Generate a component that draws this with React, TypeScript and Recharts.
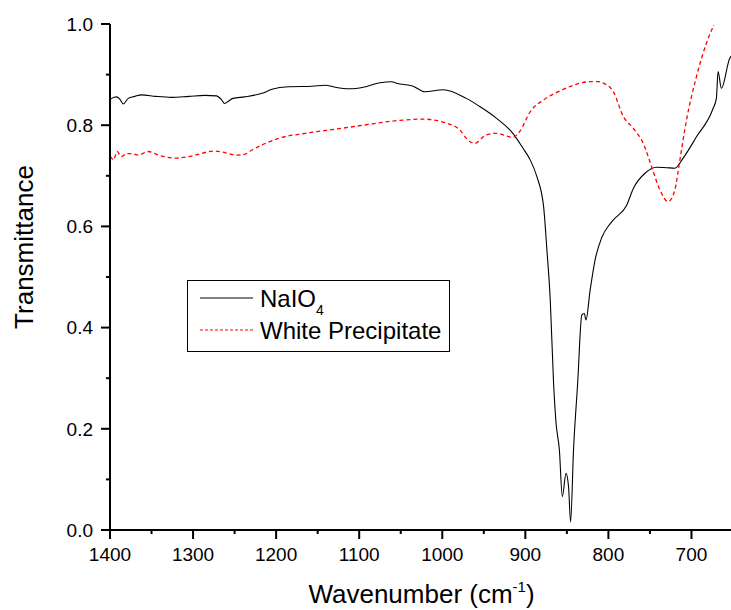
import React from 'react';
import { LineChart, Line, XAxis, YAxis, Legend, Label } from 'recharts';

// NaIO4 spectrum: [wavenumber, transmittance]
const naio4Wn = [1400, 1398, 1392, 1388, 1384, 1378, 1370, 1362, 1345, 1326, 1305, 1286, 1272, 1266, 1262, 1257, 1252, 1238, 1217, 1205, 1185, 1157, 1141, 1129, 1111, 1095, 1075, 1061, 1055, 1035, 1021, 999, 971, 955, 935, 915, 903, 894, 886, 878, 874, 870, 866, 863, 859, 855.5, 851, 848, 845.5, 842, 837, 832, 829, 827, 822, 816, 808, 798, 794, 778, 770, 756, 742, 730, 720, 710, 694, 674, 670, 668, 664, 654, 650];
const naio4T = [0.850, 0.853, 0.856, 0.851, 0.842, 0.853, 0.857, 0.860, 0.857, 0.855, 0.857, 0.859, 0.858, 0.851, 0.843, 0.848, 0.853, 0.856, 0.863, 0.871, 0.876, 0.877, 0.879, 0.875, 0.872, 0.875, 0.884, 0.886, 0.883, 0.877, 0.866, 0.870, 0.853, 0.837, 0.814, 0.784, 0.755, 0.731, 0.698, 0.639, 0.553, 0.455, 0.290, 0.211, 0.158, 0.066, 0.112, 0.086, 0.016, 0.158, 0.290, 0.425, 0.428, 0.415, 0.474, 0.534, 0.578, 0.605, 0.613, 0.642, 0.675, 0.705, 0.717, 0.716, 0.715, 0.735, 0.777, 0.833, 0.853, 0.906, 0.873, 0.932, 0.940];

// White precipitate spectrum
const whiteWn = [1400, 1398, 1396, 1393, 1391, 1388, 1386, 1380, 1374, 1366, 1354, 1342, 1320, 1302, 1274, 1246, 1237, 1229, 1217, 1197, 1165, 1129, 1095, 1055, 1023, 999, 979, 971, 961, 947, 935, 915, 907, 894, 878, 858, 842, 822, 812, 806, 794, 782, 770, 758, 748, 738, 728, 720, 714, 706, 694, 682, 673];
const whiteT = [0.738, 0.735, 0.731, 0.742, 0.748, 0.740, 0.738, 0.744, 0.744, 0.741, 0.748, 0.741, 0.735, 0.739, 0.749, 0.741, 0.743, 0.751, 0.761, 0.774, 0.784, 0.792, 0.800, 0.809, 0.812, 0.806, 0.791, 0.774, 0.764, 0.781, 0.784, 0.776, 0.787, 0.827, 0.850, 0.868, 0.879, 0.886, 0.886, 0.883, 0.866, 0.817, 0.794, 0.764, 0.718, 0.672, 0.649, 0.672, 0.731, 0.810, 0.896, 0.962, 0.998];

const xTicks = [1400, 1350, 1300, 1250, 1200, 1150, 1100, 1050, 1000, 950, 900, 850, 800, 750, 700];
const yTicks = [0, 0.1, 0.2, 0.3, 0.4, 0.5, 0.6, 0.7, 0.8, 0.9, 1.0];

const naio4Data = naio4Wn.map((x, i) => ({ x, y: naio4T[i] }));
const whiteData = whiteWn.map((x, i) => ({ x, y: whiteT[i] }));

const FONT = '"Liberation Sans", Arial, sans-serif';

const XTick = (props: any) => {
  const { x, y, payload } = props;
  const major = payload.value % 100 === 0;
  return (
    <g>
      <line x1={x} x2={x} y1={y} y2={y + (major ? 9 : 4)} stroke="#000" strokeWidth={2} />
      {major && (
        <text x={x} y={y + 31} textAnchor="middle" fontSize={19} fontFamily={FONT} fill="#000">
          {payload.value}
        </text>
      )}
    </g>
  );
};

const YTick = (props: any) => {
  const { x, y, payload } = props;
  const major = Math.round(payload.value * 10) % 2 === 0;
  return (
    <g>
      <line x1={x - (major ? 9 : 4)} x2={x} y1={y} y2={y} stroke="#000" strokeWidth={2} />
      {major && (
        <text x={x - 17} y={y} dy="0.36em" textAnchor="end" fontSize={19} fontFamily={FONT} fill="#000">
          {payload.value.toFixed(1)}
        </text>
      )}
    </g>
  );
};

const LegendBox = () => (
  <div style={{ width: 263, height: 72, border: '1.5px solid #000', boxSizing: 'border-box', background: '#fff' }}>
    <svg width={260} height={69}>
      <line x1={12} x2={65} y1={17} y2={17} stroke="#000" strokeWidth={1} />
      <text x={72} y={26} fontSize={24} fontFamily={FONT} fill="#000">
        NaIO<tspan fontSize={14} dy={8}>4</tspan>
      </text>
      <line x1={12} x2={65} y1={49} y2={49} stroke="#ff0000" strokeWidth={1} strokeDasharray="3 2" />
      <text x={72} y={58} fontSize={24} fontFamily={FONT} fill="#000">White Precipitate</text>
    </svg>
  </div>
);

export default function App() {
  return (
    <div style={{ position: 'absolute', left: 0, top: 0, width: 731, height: 610, overflow: 'hidden', background: '#fff' }}>
      <LineChart width={740} height={610} margin={{ top: 24, right: 7, bottom: 0, left: 0 }}>
        <XAxis
          type="number"
          dataKey="x"
          domain={[650, 1400]}
          reversed
          allowDataOverflow
          ticks={xTicks}
          interval={0}
          height={80}
          tickSize={0}
          tickMargin={0}
          tickLine={false}
          tick={<XTick />}
          axisLine={{ stroke: '#000', strokeWidth: 2 }}
        >
          <Label
            content={(p: any) => {
              const vb = p.viewBox;
              return (
                <text x={vb.x + vb.width / 2} y={vb.y + 73} textAnchor="middle" fontSize={26} fontFamily={FONT} fill="#000">
                  Wavenumber (cm<tspan fontSize={15} dy={-11}>-1</tspan><tspan dy={11}>)</tspan>
                </text>
              );
            }}
          />
        </XAxis>
        <YAxis
          type="number"
          dataKey="y"
          domain={[0, 1]}
          ticks={yTicks}
          interval={0}
          width={110}
          tickSize={0}
          tickMargin={0}
          tickLine={false}
          tick={<YTick />}
          axisLine={{ stroke: '#000', strokeWidth: 2 }}
        >
          <Label
            content={(p: any) => {
              const vb = p.viewBox;
              const cx = 33;
              const cy = vb.y + vb.height / 2 - 30;
              return (
                <text x={cx} y={cy} textAnchor="middle" fontSize={26} fontFamily={FONT} fill="#000" transform={`rotate(-90, ${cx}, ${cy})`}>
                  Transmittance
                </text>
              );
            }}
          />
        </YAxis>
        <Legend
          layout="horizontal"
          verticalAlign="middle"
          align="center"
          content={<LegendBox />}
          wrapperStyle={{ position: 'absolute', left: 187, top: 280, width: 263, height: 72 }}
        />
        <Line
          data={naio4Data}
          dataKey="y"
          name="NaIO4"
          type="monotone"
          stroke="#000"
          strokeWidth={1.1}
          dot={false}
          isAnimationActive={false}
        />
        <Line
          data={whiteData}
          dataKey="y"
          name="White Precipitate"
          type="monotone"
          stroke="#ff0000"
          strokeWidth={1.3}
          strokeDasharray="4 3"
          dot={false}
          isAnimationActive={false}
        />
      </LineChart>
    </div>
  );
}
